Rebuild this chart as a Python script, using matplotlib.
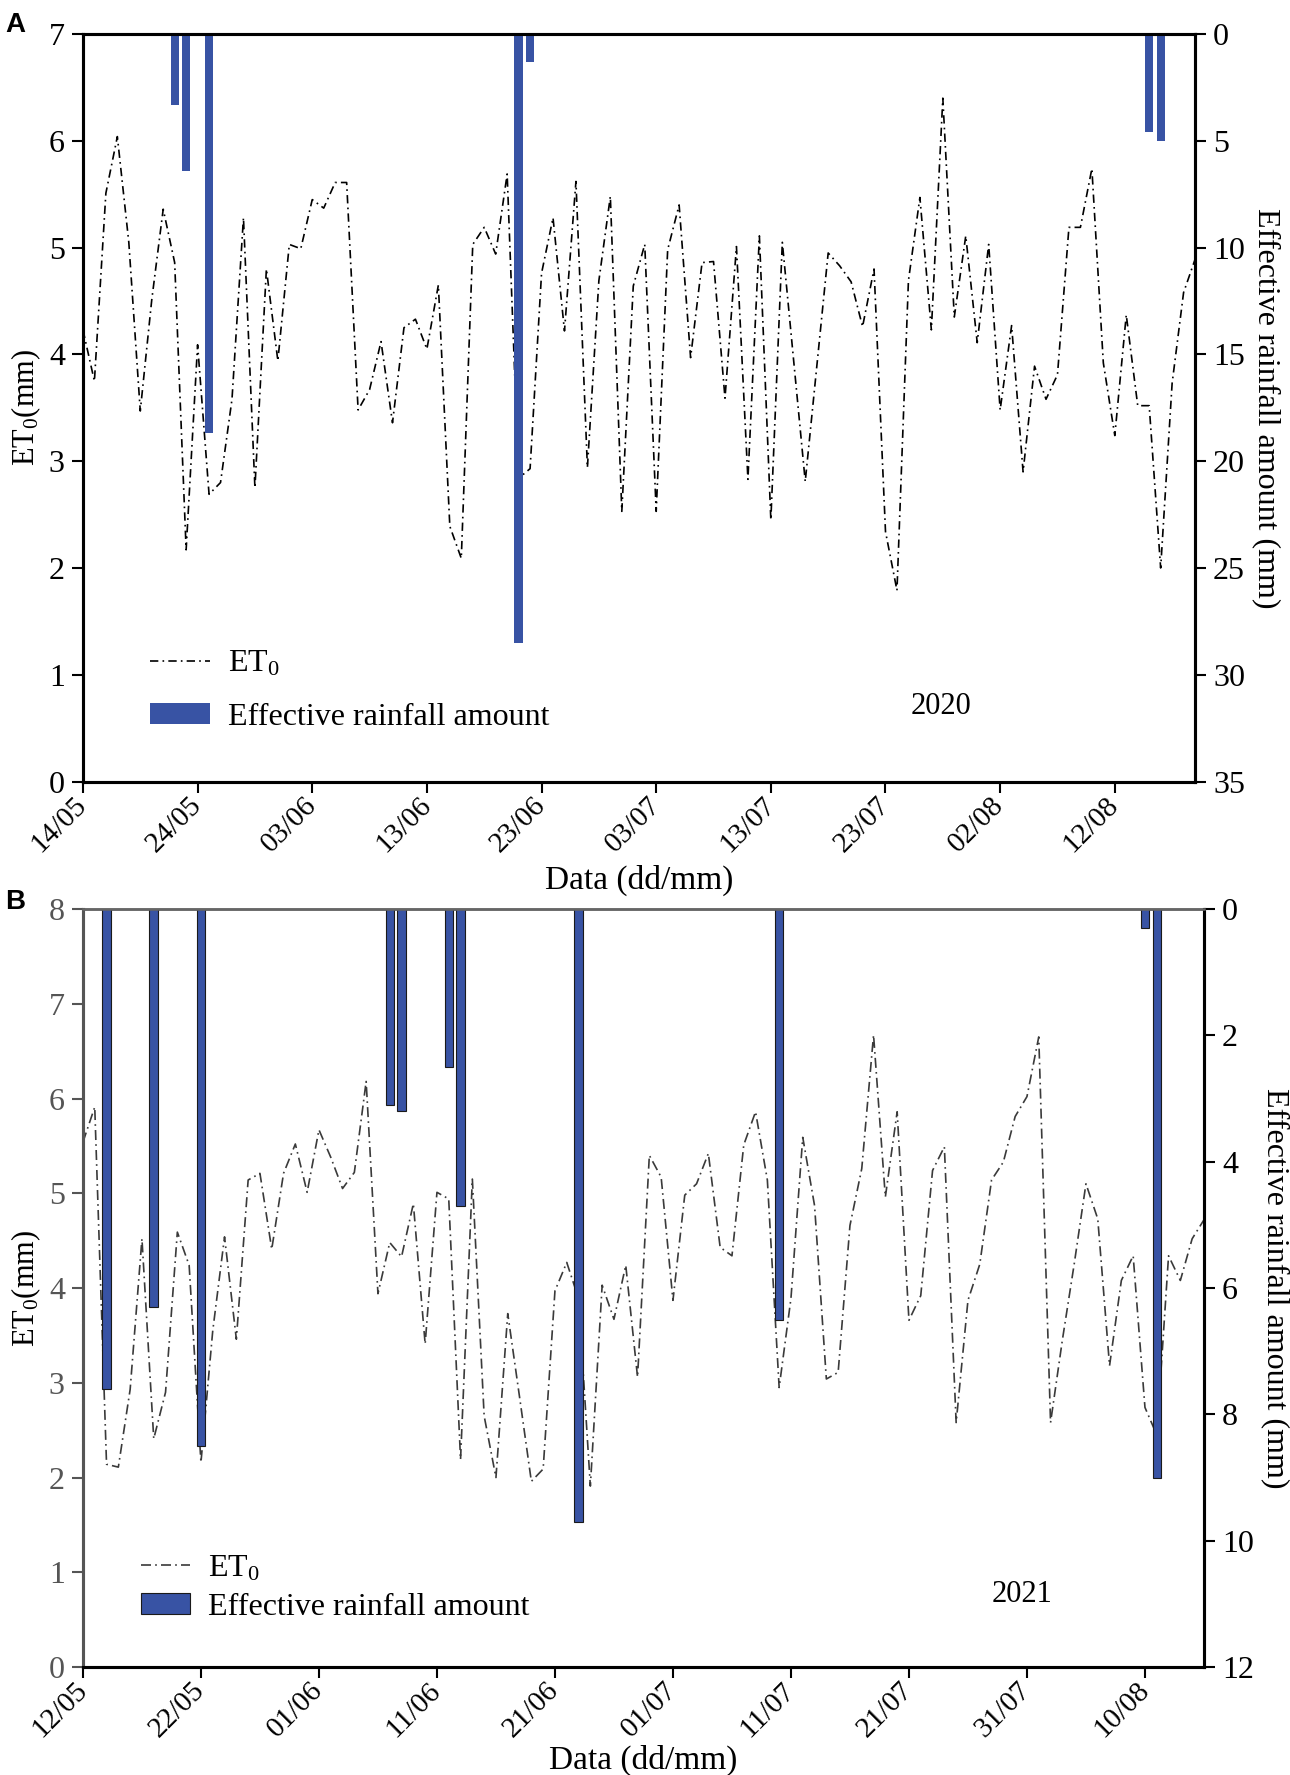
import matplotlib
matplotlib.use('Agg')
import matplotlib.pyplot as plt
from matplotlib.patches import Patch
from matplotlib.lines import Line2D

plt.rcParams['font.family'] = ['Liberation Serif', 'DejaVu Serif']
plt.rcParams['mathtext.fontset'] = 'custom'
plt.rcParams['mathtext.rm'] = 'Liberation Serif'
plt.rcParams['mathtext.it'] = 'Liberation Serif:italic'

# 2020 season, day 0 = 14/05
et0_2020 = [4.23, 3.75, 5.51, 6.04, 5.05, 3.47, 4.51, 5.36, 4.86, 2.17,
            4.09, 2.69, 2.80, 3.58, 5.28, 2.75, 4.80, 3.94, 5.03, 4.99,
            5.45, 5.37, 5.61, 5.61, 3.48, 3.67, 4.12, 3.36, 4.25, 4.33,
            4.05, 4.65, 2.39, 2.09, 5.03, 5.19, 4.94, 5.69, 2.84, 2.93,
            4.76, 5.28, 4.22, 5.62, 2.94, 4.69, 5.48, 2.53, 4.64, 5.03,
            2.53, 4.98, 5.40, 3.97, 4.86, 4.87, 3.59, 5.01, 2.83, 5.11,
            2.45, 5.05, 3.93, 2.81, 3.88, 4.95, 4.83, 4.68, 4.26, 4.80,
            2.34, 1.79, 4.69, 5.47, 4.23, 6.40, 4.35, 5.11, 4.11, 5.03,
            3.48, 4.27, 2.90, 3.89, 3.58, 3.81, 5.19, 5.19, 5.74, 3.92,
            3.24, 4.37, 3.52, 3.52, 2.00, 3.73, 4.58, 4.89]
rain_days_2020 = [8, 9, 11, 38, 39, 93, 94]
rain_mm_2020 = [3.3, 6.4, 18.7, 28.5, 1.3, 4.6, 5.0]
ticks_2020 = ['14/05', '24/05', '03/06', '13/06', '23/06', '03/07',
              '13/07', '23/07', '02/08', '12/08']

# 2021 season, day 0 = 12/05
et0_2021 = [5.54, 5.91, 2.14, 2.11, 2.93, 4.52, 2.41, 2.90, 4.59, 4.24,
            2.16, 3.55, 4.54, 3.46, 5.14, 5.21, 4.41, 5.21, 5.52, 5.01,
            5.67, 5.38, 5.05, 5.22, 6.18, 3.94, 4.48, 4.33, 4.89, 3.41,
            5.01, 4.94, 2.19, 5.15, 2.65, 2.00, 3.73, 2.85, 1.96, 2.09,
            3.97, 4.27, 3.89, 1.91, 4.03, 3.67, 4.24, 3.06, 5.40, 5.17,
            3.87, 4.98, 5.10, 5.42, 4.43, 4.34, 5.51, 5.86, 5.14, 2.95,
            3.89, 5.59, 4.87, 3.04, 3.11, 4.66, 5.26, 6.67, 4.96, 5.86,
            3.66, 3.92, 5.24, 5.49, 2.58, 3.87, 4.25, 5.14, 5.33, 5.81,
            6.02, 6.65, 2.58, 3.45, 4.25, 5.10, 4.73, 3.18, 4.08, 4.34,
            2.74, 2.45, 4.34, 4.08, 4.52, 4.72]
rain_days_2021 = [2, 6, 10, 26, 27, 31, 32, 42, 59, 90, 91]
rain_mm_2021 = [7.6, 6.3, 8.5, 3.1, 3.2, 2.5, 4.7, 9.7, 6.5, 0.3, 9.0]
ticks_2021 = ['12/05', '22/05', '01/06', '11/06', '21/06', '01/07',
              '11/07', '21/07', '31/07', '10/08']

bar_color = '#3853A4'
fs = 23

fig = plt.figure(figsize=(12.9, 17.75), dpi=100)


def draw_panel(rect, et0, rain_days, rain_mm, ticks, xmax, ymax, rmax, rstep,
               year, ls, lcolor, edge, grey, year_pos, leg_pos, lspace, hlen,
               xlab_y):
    ax = fig.add_axes(rect)
    days = list(range(len(et0)))
    ax.plot(days, et0, linestyle=ls, color=lcolor, lw=1.2)
    ax.set_xlim(0, xmax)
    ax.set_ylim(0, ymax)
    ax.set_xticks(range(0, 10 * len(ticks), 10))
    ax.set_xticklabels(ticks, rotation=45, ha='right', va='center',
                       rotation_mode='anchor')
    ax.set_yticks(range(0, ymax + 1))
    ax.tick_params(direction='out', length=8, width=1.5, labelsize=fs, pad=5)
    ax.tick_params(axis='x', pad=6, labelsize=21)
    ax.set_xlabel('Data (dd/mm)', fontsize=24)
    ax.xaxis.set_label_coords(0.5, xlab_y)
    ax.set_ylabel(r'ET$_0$(mm)', fontsize=22, labelpad=4)

    ax2 = ax.twinx()
    ax2.bar(rain_days, rain_mm, width=0.72, color=bar_color,
            edgecolor='#1a1a1a' if edge else bar_color,
            linewidth=0.8 if edge else 0)
    ax2.set_ylim(rmax, 0)
    ax2.set_yticks(range(0, rmax + 1, rstep))
    ax2.tick_params(direction='out', length=8, width=1.5, labelsize=fs, pad=5)
    ax2.set_ylabel('Effective rainfall amount (mm)', fontsize=23,
                   rotation=270, labelpad=26)

    for a in (ax, ax2):
        for s in a.spines.values():
            s.set_linewidth(2.2)
    if grey:
        for a in (ax, ax2):
            a.spines['left'].set_color('#555555')
            a.spines['top'].set_color('#666666')
            a.spines['top'].set_linewidth(1.8)
        ax.tick_params(axis='y', colors='#555555')
        ax.yaxis.label.set_color('black')

    ax2.text(year_pos[0], year_pos[1], year, transform=ax2.transAxes,
             fontsize=22, ha='center', va='center')
    handles = [Line2D([0], [0], linestyle=ls, color=lcolor, lw=1.2),
               Patch(facecolor=bar_color,
                     edgecolor='#1a1a1a' if edge else bar_color,
                     linewidth=0.8 if edge else 0)]
    ax2.legend(handles, [r'ET$_0$', 'Effective rainfall amount'],
               loc='lower left', bbox_to_anchor=leg_pos, frameon=False,
               fontsize=fs, handlelength=hlen, handleheight=0.6,
               labelspacing=lspace, handletextpad=0.55)
    return ax, ax2


draw_panel([0.0643, 0.5597, 0.8621, 0.4211], et0_2020, rain_days_2020,
           rain_mm_2020, ticks_2020, 97, 7, 35, 5, '2020',
           (0, (5, 2.5, 1, 2.5)), 'black', False, False,
           (0.772, 0.10), (0.034, 0.028), 0.75, 1.9, -0.112)
draw_panel([0.0643, 0.0608, 0.8690, 0.4271], et0_2021, rain_days_2021,
           rain_mm_2021, ticks_2021, 95, 8, 12, 2, '2021',
           (0, (6, 2.5, 1, 2.5)), '#3a3a3a', True, True,
           (0.838, 0.096), (0.026, 0.022), 0.3, 1.55, -0.102)

fig.text(0.004, 0.993, 'A', fontsize=20, fontweight='bold',
         family='Liberation Sans', va='top')
fig.text(0.004, 0.499, 'B', fontsize=20, fontweight='bold',
         family='Liberation Sans', va='top')

fig.savefig('out.png', dpi=100)
